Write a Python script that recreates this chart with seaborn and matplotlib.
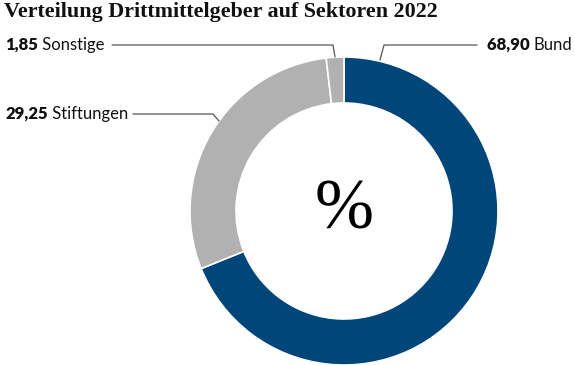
import matplotlib
matplotlib.use("Agg")
import matplotlib.pyplot as plt
import seaborn as sns

# data
sectors = ["Bund", "Stiftungen", "Sonstige"]
shares = [68.90, 29.25, 1.85]
value_labels = ["68,90", "29,25", "1,85"]
colors = ["#00467a", "#b1b1b1", "#b1b1b1"]

sns.set_theme(style="white")
plt.rcParams['font.family'] = ['Lato', 'DejaVu Sans']

fig = plt.figure(figsize=(5.75, 3.65), dpi=100)
ax = fig.add_axes([0, 0, 1, 1])

# donut, coordinates in pixels (y up)
cx, cy, r = 344, 154, 154
wedges, _ = ax.pie(shares, colors=colors, startangle=90, counterclock=False,
                   center=(cx, cy), radius=r,
                   wedgeprops=dict(width=46, edgecolor="white", linewidth=1.2))
ax.set_xlim(0, 575)
ax.set_ylim(0, 365)
ax.set_aspect("equal")
ax.axis("off")

ax.text(cx, cy, "%", ha="center", va="center", fontsize=51,
        family="Liberation Serif", color="black")

fig.text(4 / 575, 1 - 12 / 365, "Verteilung Drittmittelgeber auf Sektoren 2022",
         ha="left", va="center", fontsize=15.8, fontweight="bold",
         family="Liberation Serif", color="#111111")

lc = "#555555"
# leader lines
ax.plot([112, 333, 335], [320, 320, 308], color=lc, lw=0.9)
ax.plot([133, 213, 219], [251, 251, 244], color=lc, lw=0.9)
ax.plot([477, 384, 380], [320, 320, 305], color=lc, lw=0.9)

def label(x, y, val, name, ha):
    if ha == "left":
        t = ax.text(x, y, val, ha="left", va="center", fontsize=12,
                    fontweight="heavy", color="#111111")
        fig.canvas.draw()
        bb = t.get_window_extent()
        ax.annotate(" " + name, xy=(bb.x1, y), xycoords=("figure pixels", "data"),
                    ha="left", va="center", fontsize=12, color="#111111")
    else:
        t = ax.text(x, y, name, ha="right", va="center", fontsize=12,
                    color="#111111")
        fig.canvas.draw()
        bb = t.get_window_extent()
        ax.annotate(val + " ", xy=(bb.x0, y), xycoords=("figure pixels", "data"),
                    ha="right", va="center", fontsize=12, fontweight="heavy",
                    color="#111111")

label(5, 320, value_labels[2], sectors[2], "left")
label(5, 251, value_labels[1], sectors[1], "left")
label(572, 320, value_labels[0], sectors[0], "right")

fig.savefig("out.png", dpi=100)
